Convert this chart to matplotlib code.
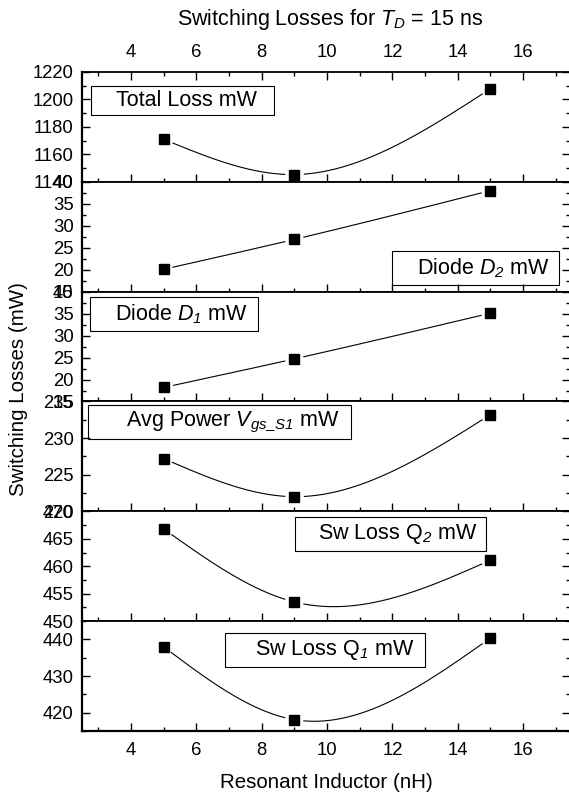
import matplotlib
matplotlib.use('Agg')
import matplotlib.pyplot as plt
from matplotlib.ticker import MultipleLocator
from matplotlib.patches import Rectangle
import numpy as np

plt.rcParams['font.family'] = ['Liberation Sans', 'DejaVu Sans']
plt.rcParams['mathtext.fontset'] = 'custom'
plt.rcParams['mathtext.rm'] = 'Liberation Sans'
plt.rcParams['mathtext.it'] = 'Liberation Sans:italic'
plt.rcParams['mathtext.bf'] = 'Liberation Sans:bold'
# sf slot used for italic digits in subscripts (mathit forces digits upright)
plt.rcParams['mathtext.sf'] = 'Liberation Sans:italic'

# data (resonant inductor in nH, losses in mW)
inductance = [5, 9, 15]
total_loss = [1171, 1145.3, 1207.8]
diode_d2 = [20.1, 26.9, 38.0]
diode_d1 = [18.2, 24.7, 35.1]
avg_power_vgs = [227.2, 222.0, 233.2]
sw_loss_q2 = [466.8, 453.5, 461.1]
sw_loss_q1 = [438.0, 418.1, 440.4]

labels = ["Total Loss mW",
          r"Diode $D_{\mathsf{2}}$ mW",
          r"Diode $D_{\mathsf{1}}$ mW",
          r"Avg Power $V_{\mathsf{gs\_S1}}$ mW",
          r"Sw Loss Q$_{\mathsf{2}}$ mW",
          r"Sw Loss Q$_{\mathsf{1}}$ mW"]
series = [total_loss, diode_d2, diode_d1, avg_power_vgs, sw_loss_q2, sw_loss_q1]
y_ranges = [(1140, 1220), (15, 40), (15, 40), (220, 235), (450, 470), (415, 445)]
y_major = [20, 5, 5, 5, 5, 10]
y_minor = [10, 2.5, 2.5, 2.5, 2.5, 5]

# legend boxes in pixels: box left, right, top, bottom, text start
boxes = [(91, 274, 86, 115, 116),
         (392, 559, 251, 285, 417),
         (90, 258, 297, 331, 115),
         (88, 351, 405, 439, 126),
         (295, 486, 517, 551, 318),
         (225, 425, 633, 667, 255)]


def natural_spline(x, y, xs):
    x = np.asarray(x, float)
    y = np.asarray(y, float)
    n = len(x)
    h = np.diff(x)
    A = np.zeros((n, n))
    b = np.zeros(n)
    A[0, 0] = 1
    A[-1, -1] = 1
    for i in range(1, n - 1):
        A[i, i - 1] = h[i - 1]
        A[i, i] = 2 * (h[i - 1] + h[i])
        A[i, i + 1] = h[i]
        b[i] = 6 * ((y[i + 1] - y[i]) / h[i] - (y[i] - y[i - 1]) / h[i - 1])
    M = np.linalg.solve(A, b)
    out = np.empty_like(xs)
    for k, xv in enumerate(xs):
        i = min(max(np.searchsorted(x, xv) - 1, 0), n - 2)
        a = x[i + 1] - xv
        c = xv - x[i]
        out[k] = (M[i] * a**3 / (6 * h[i]) + M[i + 1] * c**3 / (6 * h[i])
                  + (y[i] / h[i] - M[i] * h[i] / 6) * a
                  + (y[i + 1] / h[i] - M[i + 1] * h[i] / 6) * c)
    return out


W, H = 569, 793
fig = plt.figure(figsize=(W / 100, H / 100), dpi=100)
left_px, right_px = 82, 570
top_px, bot_px = 72, 731
ph = (bot_px - top_px) / 6
aw = right_px - left_px

for i in range(6):
    ax = fig.add_axes([left_px / W, 1 - (top_px + (i + 1) * ph) / H, aw / W, ph / H])
    ax.set_xlim(2.5, 2.5 + aw / 32.67)
    ax.set_ylim(*y_ranges[i])
    ax.xaxis.set_major_locator(MultipleLocator(2))
    ax.xaxis.set_minor_locator(MultipleLocator(1))
    ax.yaxis.set_major_locator(MultipleLocator(y_major[i]))
    ax.yaxis.set_minor_locator(MultipleLocator(y_minor[i]))
    ax.tick_params(which='both', direction='in', left=True, right=True,
                   bottom=True, top=(i == 0), labelbottom=(i == 5), labeltop=(i == 0),
                   labelsize=13.3, width=1.0)
    ax.tick_params(which='major', length=5.8)
    ax.tick_params(which='minor', length=2.9)
    ax.tick_params(axis='y', pad=6)
    ax.tick_params(axis='x', which='major', pad=8)
    for s in ax.spines.values():
        s.set_linewidth(1.3)
    ax.spines['left'].set_linewidth(1.6)
    if i == 5:
        ax.spines['bottom'].set_linewidth(1.6)

    # spline curve with small gaps around the markers
    xs = np.linspace(inductance[0], inductance[-1], 600)
    ys = natural_spline(inductance, series[i], xs)
    disp = ax.transData.transform(np.column_stack([xs, ys]))
    pts = ax.transData.transform(np.column_stack([inductance, series[i]]))
    dist = np.min(np.hypot(disp[:, None, 0] - pts[None, :, 0],
                           disp[:, None, 1] - pts[None, :, 1]), axis=1)
    ys = np.where(dist < 9.5, np.nan, ys)
    ax.plot(xs, ys, color='black', lw=0.8)
    ax.plot(inductance, series[i], 's', color='black', markersize=6.5)

    bl, br, bt, bb, tx = boxes[i]
    ytop = top_px + i * ph
    fx = lambda p: (p - left_px) / aw
    fy = lambda p: (ytop + ph - p) / ph
    ax.add_patch(Rectangle((fx(bl), fy(bb)), fx(br) - fx(bl), fy(bt) - fy(bb),
                           transform=ax.transAxes, fill=False, edgecolor='black',
                           lw=0.8, zorder=5))
    ax.text(fx(tx), (fy(bt) + fy(bb)) / 2, labels[i], transform=ax.transAxes,
            ha='left', va='center', fontsize=15.5, zorder=6)

fig.text(330 / W, 1 - 25 / H, r"Switching Losses for $T_{\mathsf{D}}$ = 15 ns",
         ha='center', va='baseline', fontsize=15.5)
fig.text(326 / W, 1 - 788 / H, "Resonant Inductor (nH)",
         ha='center', va='baseline', fontsize=14.8)
fig.text(18.5 / W, 1 - 389 / H, "Switching Losses (mW)",
         ha='center', va='center', rotation=90, fontsize=14.8)

plt.savefig('out.png', dpi=100)
